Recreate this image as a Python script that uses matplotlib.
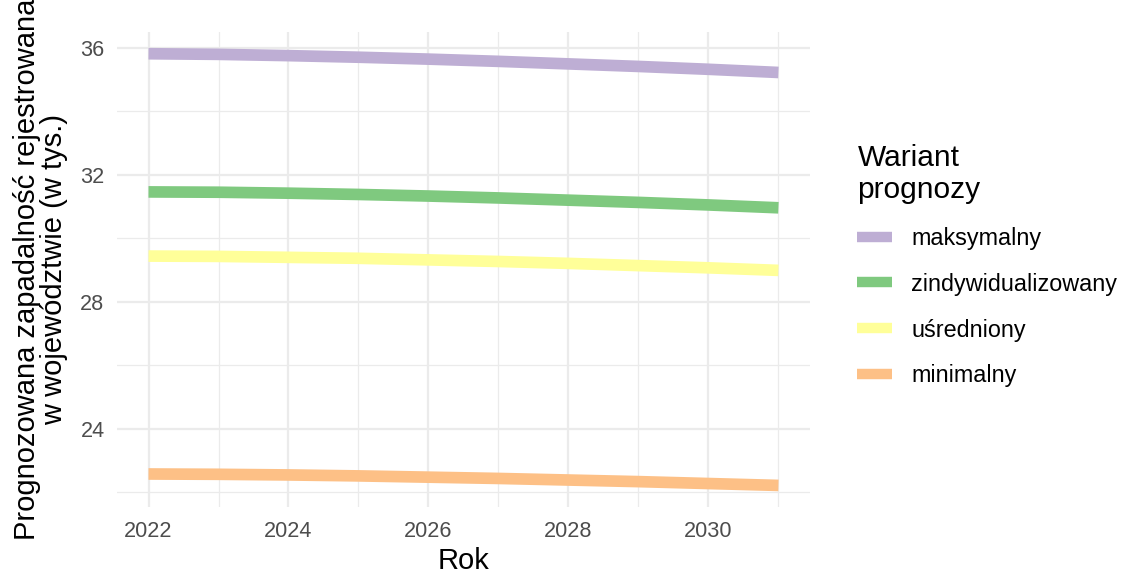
import numpy as np
import matplotlib
matplotlib.use("Agg")
import matplotlib.pyplot as plt
from matplotlib.ticker import MultipleLocator

plt.rcParams['font.family'] = ['Liberation Sans', 'DejaVu Sans']

lata = [2022, 2023, 2024, 2025, 2026, 2027, 2028, 2029, 2030, 2031]
maksymalny = [35.81, 35.79, 35.75, 35.70, 35.64, 35.57, 35.49, 35.41, 35.32, 35.22]
zindywidualizowany = [31.46, 31.45, 31.42, 31.38, 31.33, 31.27, 31.20, 31.13, 31.05, 30.96]
usredniony = [29.44, 29.43, 29.40, 29.37, 29.32, 29.27, 29.21, 29.14, 29.07, 28.99]
minimalny = [22.58, 22.57, 22.55, 22.52, 22.48, 22.44, 22.39, 22.34, 22.28, 22.22]

nazwy = ["maksymalny", "zindywidualizowany", "uśredniony", "minimalny"]
kolory = ["#BEAED4", "#7FC97F", "#FFFF99", "#FDC086"]
serie = [maksymalny, zindywidualizowany, usredniony, minimalny]

fig = plt.figure(figsize=(11.23, 5.74), dpi=100)
ax = fig.add_axes([0.1042, 0.1167, 0.617, 0.8273])

for y, c, n in zip(serie, kolory, nazwy):
    ax.plot(lata, y, color=c, lw=8.4, solid_capstyle="butt", label=n)

ax.margins(x=0.05, y=0.05)
ax.xaxis.set_major_locator(MultipleLocator(2))
ax.xaxis.set_minor_locator(MultipleLocator(1))
ax.yaxis.set_major_locator(MultipleLocator(4))
ax.yaxis.set_minor_locator(MultipleLocator(2))
ax.grid(which="major", color="#EBEBEB", lw=1.6)
ax.grid(which="minor", color="#EBEBEB", lw=0.9)
ax.set_axisbelow(True)
for s in ax.spines.values():
    s.set_visible(False)
ax.tick_params(which="both", length=0, labelsize=15.6, labelcolor="#4D4D4D")
ax.tick_params(axis="x", pad=10)
ax.tick_params(axis="y", pad=9)

ax.set_xlabel("Rok", fontsize=21, labelpad=4)
ax.set_ylabel("Prognozowana zapadalność rejestrowana\nw województwie (w tys.)",
              fontsize=21, labelpad=9, linespacing=0.95)

leg = ax.legend(title="Wariant\nprognozy", loc="upper left",
                bbox_to_anchor=(0.7635, 0.75), bbox_transform=fig.transFigure,
                frameon=False, fontsize=16.8, title_fontsize=21.5,
                handlelength=1.5, handletextpad=0.8, labelspacing=0.98,
                borderpad=0, borderaxespad=0, alignment="left")
for h in leg.get_lines():
    h.set_linewidth(7.5)

fig.savefig("out.png", dpi=100)
